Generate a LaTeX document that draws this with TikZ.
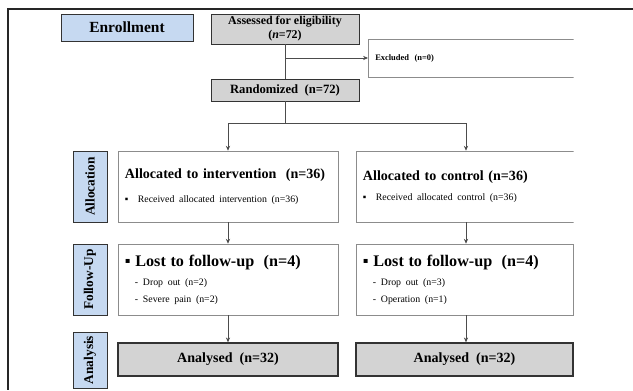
\documentclass[tikz,border=0pt]{standalone}
\usepackage{fontspec}
\setmainfont{Liberation Serif}
\usetikzlibrary{arrows.meta}
\definecolor{phasebg}{RGB}{198,217,241}
\definecolor{boxgray}{RGB}{211,211,211}

\begin{document}
\begin{tikzpicture}[x=0.025cm, y=-0.025cm,
phase/.style={draw=black!80, fill=phasebg, inner sep=0pt,
	font=\bfseries\fontsize{11}{13}\selectfont},
side/.style={phase, rotate=90, minimum height=0.85cm,
	font=\bfseries\fontsize{9.5}{11}\selectfont},
gbox/.style={draw=black!80, fill=boxgray, align=center, inner sep=0pt,
	font=\bfseries\fontsize{9}{11}\selectfont},
wbox/.style={draw=black!45, fill=white, align=left, inner xsep=0.175cm, inner ysep=0pt},
ana/.style={gbox, line width=0.9pt, minimum height=0.825cm,
	font=\bfseries\fontsize{10}{12}\selectfont},
conn/.style={draw=black!70, line width=0.5pt},
arr/.style={conn, -{Stealth[length=3.5pt, width=3pt]}}
]
\useasboundingbox (0,0) rectangle (633,390);
\draw[black!85, line width=0.8pt] (633,9) -- (8,9) -- (8,390);

% phases
\node[phase, minimum width=3.3cm, minimum height=0.675cm] (enrol) at (127,27.5) {Enrollment};
\node[side, minimum width=1.775cm] (alloc) at (90,186.5) {Allocation};
\node[side, minimum width=1.775cm] (follow) at (90,279.5) {Follow-Up};
\node[side, minimum width=1.4cm] (analysis) at (90,360) {Analysis};

% enrollment
\node[gbox, minimum width=3.7cm, minimum height=0.75cm, font=\bfseries\fontsize{8.5}{10}\selectfont] (assess) at (285,29)
	{Assessed for eligibility\\(\textit{n}=72)};
\node[gbox, minimum width=3.7cm, minimum height=0.55cm] (rand) at (285,90) {Randomized~~(n=72)};

\begin{scope}
\clip (0,0) rectangle (573.5,390);
\node[wbox, anchor=west, text width=4.95cm, minimum height=0.95cm,
	font=\bfseries\fontsize{6}{7}\selectfont] (excl) at (368,58) {Excluded~~(n=0)};
\node[wbox, text width=5.15cm, minimum height=1.775cm] (ctrl) at (466,186.5)
	{\fontsize{10}{12}\selectfont\bfseries Allocated to control (n=36)\\[2pt]
	\normalfont\fontsize{7}{9}\selectfont ▪~~Received allocated control (n=36)};
\end{scope}

% allocation
\node[wbox, text width=5.15cm, minimum height=1.775cm] (intv) at (228,186.5)
	{\fontsize{10}{12}\selectfont\bfseries Allocated to intervention~~(n=36)\\[8pt]
	\normalfont\fontsize{7}{9}\selectfont ▪~~Received allocated intervention~(n=36)\\[2pt]};

% follow-up
\node[wbox, text width=5.15cm, minimum height=1.775cm] (lost) at (228,279.5)
	{\fontsize{11.5}{13}\selectfont\bfseries ▪~Lost to follow-up~~(n=4)\\[6pt]
	\normalfont\fontsize{7}{7.5}\selectfont\hspace*{0.25cm}- Drop out~(n=2)\\
	\hspace*{0.25cm}- Severe pain~(n=2)};
\node[wbox, text width=5.075cm, minimum height=1.775cm] (lostc) at (464.5,279.5)
	{\fontsize{11.5}{13}\selectfont\bfseries ▪~Lost to follow-up~~(n=4)\\[6pt]
	\normalfont\fontsize{7}{7.5}\selectfont\hspace*{0.25cm}- Drop out~(n=3)\\
	\hspace*{0.25cm}- Operation~(n=1)};

% analysis
\node[ana, minimum width=5.5cm] (ana) at (228,359.5) {Analysed~~(n=32)};
\node[ana, minimum width=5.425cm] (anac) at (464.5,359.5) {Analysed~~(n=32)};

% connectors
\coordinate (split) at (285,123);
\draw[conn] (assess.south) -- (rand.north);
\draw[arr] (assess.south |- excl.west) -- (excl.west);
\draw[conn] (rand.south) -- (split);
\draw[arr] (split) -| (intv.north);
\draw[arr] (split) -| (ctrl.north);
\draw[arr] (intv.south) -- (lost.north);
\draw[arr] (ctrl.south) -- (ctrl.south |- lostc.north);
\draw[arr] (lost.south) -- (ana.north);
\draw[arr] (ctrl.south |- lostc.south) -- (ctrl.south |- anac.north);
\end{tikzpicture}
\end{document}
